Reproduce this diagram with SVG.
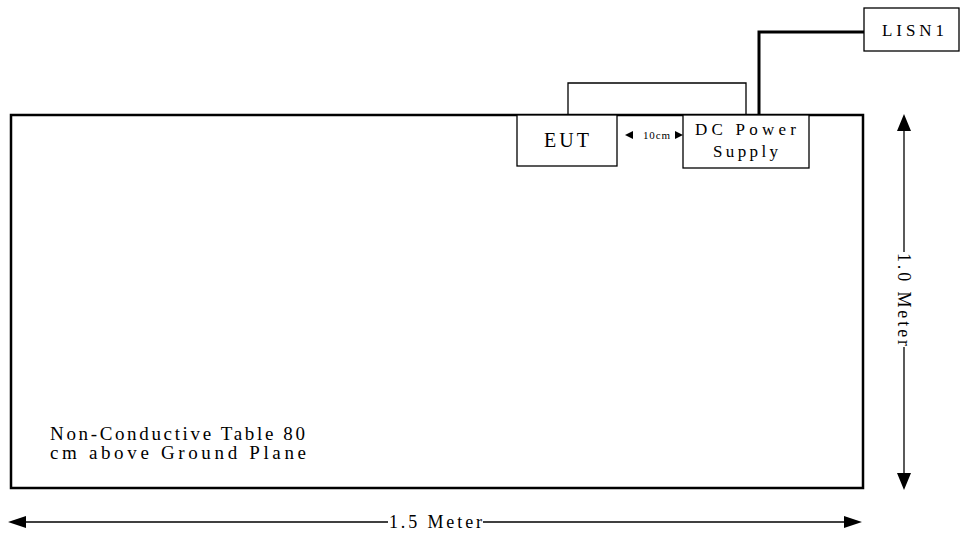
<svg xmlns="http://www.w3.org/2000/svg" width="961" height="537" viewBox="0 0 961 537">
<style>
.t{font-family:"Liberation Serif","Times New Roman",serif;fill:#000}
.box{fill:#fff;stroke:#000;stroke-width:1.3}
.ln{fill:none;stroke:#000;stroke-width:1.3}
.ah{fill:#000}
</style>
<g id="table">
<rect x="11" y="115" width="852" height="373" fill="#fff" stroke="#000" stroke-width="2.5"/>
<text class="t" x="50" y="440" font-size="19" textLength="255" lengthAdjust="spacing">Non-Conductive Table 80</text>
<text class="t" x="50" y="459" font-size="19" textLength="256" lengthAdjust="spacing">cm above Ground Plane</text>
</g>
<g id="connectors">
<polyline class="ln" points="568,115 568,83 746,83 746,115"/>
<polyline fill="none" stroke="#000" stroke-width="3" points="759,117 759,32 864,32"/>
</g>
<g id="eut">
<rect class="box" x="517" y="115" width="100" height="51"/>
<text class="t" x="544" y="147" font-size="20" textLength="45" lengthAdjust="spacing">EUT</text>
</g>
<g id="dc">
<rect class="box" x="683" y="115" width="126" height="53"/>
<text class="t" x="695" y="135" font-size="17" textLength="101" lengthAdjust="spacing">DC Power</text>
<text class="t" x="713" y="157" font-size="17" textLength="65" lengthAdjust="spacing">Supply</text>
</g>
<g id="lisn1">
<rect class="box" x="864" y="8" width="95" height="43"/>
<text class="t" x="882" y="36" font-size="17" textLength="62" lengthAdjust="spacing">LISN1</text>
</g>
<g id="dim10">
<path class="ah" d="M625,135 L633,131 L633,139 Z M683,135 L675,131 L675,139 Z"/>
<text class="t" x="643" y="139" font-size="11" textLength="27" lengthAdjust="spacing">10cm</text>
</g>
<g id="dimv">
<line class="ln" x1="904" y1="125" x2="904" y2="252"/>
<line class="ln" x1="904" y1="347" x2="904" y2="479"/>
<path class="ah" d="M904,114 L897,131 L911,131 Z M904,490 L897,473 L911,473 Z"/>
<text class="t" transform="translate(898,253) rotate(90)" font-size="18" textLength="93" lengthAdjust="spacing">1.0 Meter</text>
</g>
<g id="dimh">
<line class="ln" x1="20" y1="522" x2="388" y2="522"/>
<line class="ln" x1="483" y1="522" x2="850" y2="522"/>
<path class="ah" d="M8,522 L26,516 L26,528 Z M862,522 L844,516 L844,528 Z"/>
<text class="t" x="389" y="528" font-size="18" textLength="93" lengthAdjust="spacing">1.5 Meter</text>
</g>
</svg>
